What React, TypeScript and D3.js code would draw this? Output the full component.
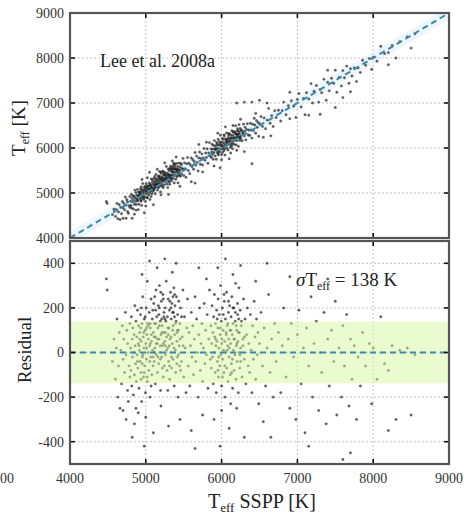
import React from "react";
import * as d3 from "d3";

// Stars: [Teff SSPP, residual (Lee 2008a - SSPP)]
const coolStars: [number, number][] = [
  [4480,330],[4490,280],[4560,-40],[4580,60],[4600,-120],[4610,20],[4620,150],[4630,-200],[4640,-60],[4650,90],
  [4660,-250],[4670,10],[4680,-140],[4690,120],[4700,-30],[4700,-260],[4710,60],[4720,-90],[4730,180],[4740,-10],
  [4740,-300],[4750,100],[4760,-170],[4760,40],[4770,-220],[4780,-60],[4790,130],[4790,-110],
];
const mainStars: [number, number][] = [
  [4800,20],[4805,-80],[4810,160],[4815,-150],[4820,60],[4825,-20],[4830,110],[4835,-190],[4840,0],[4845,80],
  [4850,-100],[4855,210],[4860,30],[4865,-50],[4870,140],[4875,-130],[4880,70],[4885,-10],[4890,190],[4895,-70],
  [4900,40],[4905,120],[4910,-160],[4915,10],[4920,90],[4925,-40],[4930,170],[4935,-90],[4940,50],[4945,-220],
  [4950,130],[4955,-20],[4960,250],[4965,70],[4970,-110],[4975,20],[4980,150],[4985,-60],[4990,100],[4995,-180],
  [5000,40],[5005,200],[5010,-30],[5015,80],[5020,-130],[5025,130],[5030,0],[5035,60],[5040,-80],[5045,180],
  [5050,30],[5055,-200],[5060,110],[5065,-20],[5070,240],[5075,50],[5080,-100],[5085,150],[5090,10],[5095,-60],
  [5100,90],[5105,220],[5110,-40],[5115,130],[5120,20],[5125,-140],[5130,70],[5135,280],[5140,-10],[5145,160],
  [5150,40],[5155,-90],[5160,110],[5165,210],[5170,-50],[5175,60],[5180,300],[5185,0],[5190,140],[5195,-170],
  [5200,80],[5205,230],[5210,-20],[5215,120],[5220,30],[5225,260],[5230,-110],[5235,90],[5240,180],[5245,-60],
  [5250,50],[5255,200],[5260,-10],[5265,140],[5270,320],[5275,70],[5280,-80],[5285,160],[5290,20],[5295,240],
  [5300,-40],[5305,110],[5310,190],[5315,-120],[5320,60],[5325,270],[5330,0],[5335,150],[5340,-70],[5345,220],
  [5350,40],[5355,100],[5360,-30],[5365,180],[5370,290],[5375,-150],[5380,80],[5385,210],[5390,10],[5395,-90],
  [5400,140],[5405,250],[5410,50],[5415,-20],[5420,170],[5425,-200],[5430,100],[5435,230],[5440,30],[5445,-60],
  [5450,130],[5460,200],[5470,-40],[5480,70],[5490,280],[5500,-110],[5510,160],[5520,20],[5530,-180],[5540,110],
  [5550,240],
  [4850,-320],[4900,-270],[5000,-290],[5100,-360],[5200,-240],[4950,350],[5050,410],[5150,380],[5250,420],[5350,360],
  [5450,-300],[4870,-250],[5300,-330],[5020,320],[5400,400],[4980,-420],[4820,-380],
  [4920,60],[4960,-10],[5010,110],[5060,40],[5110,70],[5160,-20],[5210,150],[5260,90],[5310,30],[5360,120],
  [5410,-50],[5130,190],[5230,240],[5330,200],[5070,-150],[4890,-40],[4940,200],[5190,30],[5290,-170],[5380,260],
  [4912,30],[4932,110],[4952,-50],[4972,90],[4992,160],[5012,20],[5032,120],[5052,-40],[5072,80],[5092,190],
  [5112,0],[5132,130],[5152,60],[5172,170],[5192,-30],[5212,90],[5232,40],[5252,150],[5272,10],[5292,110],
  [5312,-60],[5332,70],[5352,180],[5372,20],[5392,130],[5412,90],[5432,-10],[5452,60],[5472,160],[5492,30],
  [4938,-120],[4978,-90],[5018,-110],[5058,130],[5098,-20],[5138,40],[5178,120],[5218,-70],[5258,30],[5298,80],
  [5338,-20],[5378,160],[5418,100],[5458,-80],[5118,250],[5178,200],[5238,160],[5198,270],[5318,230],[5358,250],
];
const midStars: [number, number][] = [
  [5560,-60],[5570,90],[5580,-150],[5590,30],[5600,180],[5610,-20],[5620,120],[5630,-100],[5640,60],[5650,250],
  [5660,-40],[5670,150],[5680,0],[5690,-200],[5700,80],[5710,200],[5720,-80],[5730,40],[5740,130],[5750,-130],
  [5760,20],[5770,220],[5780,-50],[5790,100],[5800,-10],[5810,170],[5820,-160],[5830,60],[5840,280],[5850,-30],
  [5600,-350],[5700,380],[5750,-280],[5650,-430],[5800,330],
];
const warmStars: [number, number][] = [
  [5860,120],[5865,-70],[5870,40],[5875,210],[5880,-20],[5885,90],[5890,-140],[5895,160],[5900,0],[5905,260],
  [5910,70],[5915,-90],[5920,130],[5925,30],[5930,-180],[5935,190],[5940,50],[5945,-40],[5950,110],[5955,240],
  [5960,-110],[5965,20],[5970,170],[5975,-60],[5980,80],[5985,300],[5990,-10],[5995,140],[6000,-150],[6005,60],
  [6010,200],[6015,-30],[6020,100],[6025,10],[6030,-90],[6035,230],[6040,50],[6045,-200],[6050,150],[6055,0],
  [6060,90],[6065,270],[6070,-70],[6075,120],[6080,30],[6085,-130],[6090,180],[6095,60],[6100,-20],[6105,210],
  [6110,100],[6115,-100],[6120,40],[6125,160],[6130,-50],[6135,250],[6140,80],[6145,-160],[6150,130],[6155,10],
  [6160,200],[6165,-80],[6170,60],[6175,-10],[6180,140],[6185,310],[6190,-120],[6195,30],[6200,100],[6205,-40],
  [6210,220],[6215,50],[6220,-180],[6225,150],[6230,0],[6235,90],[6240,-70],[6245,190],[6250,20],[6260,120],
  [6270,-110],[6280,60],[6290,240],[6300,-30],[6310,150],[6320,-140],[6330,80],[6340,200],[6350,-60],
  [5900,-300],[5950,380],[6000,-260],[6050,420],[6100,-340],[6150,350],[6200,-250],[6250,390],[6300,-380],
  [5980,-420],[6120,-230],[6230,290],
  [6200,800],[6300,720],[6400,620],[6500,560],[6400,-750],
  [5922,60],[5942,150],[5962,-20],[5982,110],[6002,40],[6022,170],[6042,-60],[6062,80],[6082,130],[6102,20],
  [6122,100],[6142,-30],[6162,60],[6182,180],[6202,40],[6222,90],[6242,-10],[6262,140],[6282,30],[6302,70],
  [5952,-80],[6012,-110],[6072,10],[6132,-90],[6192,120],[6252,-40],[6092,230],[6152,200],[6032,260],[6212,170],
];
const hotStars: [number, number][] = [
  [6360,40],[6370,-90],[6380,170],[6390,10],[6400,-180],[6410,120],[6420,-30],[6430,230],[6440,70],[6450,-120],
  [6460,150],[6470,-10],[6480,90],[6490,-230],[6500,40],[6520,180],[6540,-60],[6560,110],[6580,-150],[6600,20],
  [6620,260],[6640,-90],[6660,60],[6680,-200],[6700,130],[6450,320],[6550,-310],[6600,400],[6650,-380],
  [6720,-40],[6750,90],[6780,-180],[6800,30],[6820,200],[6850,-110],[6880,60],[6900,-250],[6920,130],[6950,-20],
  [6980,-300],[7000,80],[7020,190],[7050,-140],[7080,20],[7100,-360],[7120,110],[7150,-60],[7180,250],[7200,-200],
  [7220,40],[7250,140],[7280,-260],[7300,0],[7320,-90],[7350,180],[7380,-320],[7400,60],[7420,-150],[7450,100],
  [7480,-40],[7500,230],[7520,-280],[7550,20],[7580,-200],[7600,120],[7620,-60],[7650,170],[7680,-240],[7700,60],
  [7720,-120],[7750,30],[7780,-300],[7800,-20],[7830,-150],[7860,90],[7900,-60],[7950,40],[7980,-230],[8000,20],
  [8050,-120],[8100,160],[8150,-50],[8200,-80],[8250,30],[8300,-300],[8350,10],[8450,20],[8500,-280],[8550,-10],
  [6900,340],[7150,-420],[7400,330],[7700,-450],[8200,-350],[7300,-550],[7500,-600],[7600,-480],
];
const stars = [...coolStars, ...mainStars, ...midStars, ...warmStars, ...hotStars];

const xTicks = [4000, 5000, 6000, 7000, 8000, 9000];
const topYTicks = [4000, 5000, 6000, 7000, 8000, 9000];
const botYTicks = [-400, -200, 0, 200, 400];
const sigmaTeff = 138;

const W = 467, H = 519;
const L = 70, R = 449;
const T1 = 13, B1 = 238, T2 = 241, B2 = 464;
const FONT = "'Liberation Serif', 'Times New Roman', serif";

export default function App() {
  const x = d3.scaleLinear().domain([4000, 9000]).range([L, R]);
  const yTop = d3.scaleLinear().domain([4000, 9000]).range([B1, T1]);
  const yBot = d3.scaleLinear().domain([-500, 500]).range([B2, T2]);

  const line = d3.line<[number, number]>().x(d => x(d[0])).y(d => yTop(d[1]));
  const diag: [number, number][] = [[4000, 4000], [9000, 9000]];
  const bandTop = d3.area<number>().x(d => x(d)).y0(d => yTop(d - sigmaTeff)).y1(d => yTop(d + sigmaTeff));

  const grid = (top: number, bottom: number, yScale: d3.ScaleLinear<number, number>, yTicks: number[]) => (
    <g>
      {xTicks.slice(1, -1).map(t => (
        <line key={"gx" + t} x1={x(t)} x2={x(t)} y1={top} y2={bottom} stroke="#c4c4c4" strokeWidth={1} strokeDasharray="2,2" />
      ))}
      {yTicks.map(t => (
        <line key={"gy" + t} x1={L} x2={R} y1={yScale(t)} y2={yScale(t)} stroke="#c4c4c4" strokeWidth={1} strokeDasharray="2,2" />
      ))}
    </g>
  );
  const border = (top: number, bottom: number, yScale: d3.ScaleLinear<number, number>, yTicks: number[]) => (
    <g>
      {xTicks.map(t => (
        <g key={"tx" + t}>
          <line x1={x(t)} x2={x(t)} y1={bottom} y2={bottom - 5} stroke="#111" strokeWidth={1.6} />
          <line x1={x(t)} x2={x(t)} y1={top} y2={top + 5} stroke="#111" strokeWidth={1.6} />
        </g>
      ))}
      {yTicks.map(t => (
        <g key={"ty" + t}>
          <line x1={L} x2={L + 5} y1={yScale(t)} y2={yScale(t)} stroke="#111" strokeWidth={1.6} />
          <line x1={R} x2={R - 5} y1={yScale(t)} y2={yScale(t)} stroke="#111" strokeWidth={1.6} />
        </g>
      ))}
      <rect x={L} y={top} width={R - L} height={bottom - top} fill="none" stroke="#555" strokeWidth={2.2} />
      {yTicks.map(t => (
        <text key={"ly" + t} x={L - 6} y={yScale(t)} dy="0.35em" textAnchor="end" fontSize={14} fill="#333" fontFamily={FONT}>{t}</text>
      ))}
    </g>
  );

  return (
    <svg width={W} height={H} style={{ position: "absolute", left: 0, top: 0, background: "#fff" }}>
      <defs>
        <clipPath id="cTop"><rect x={L} y={T1} width={R - L} height={B1 - T1} /></clipPath>
        <clipPath id="cBot"><rect x={L} y={T2} width={R - L} height={B2 - T2} /></clipPath>
      </defs>
      <rect x={0} y={0} width={W} height={H} fill="#fff" />

      {/* Top panel */}
      {grid(T1, B1, yTop, topYTicks)}
      <g clipPath="url(#cTop)">
        <path d={bandTop(d3.range(4000, 9001, 500)) || ""} fill="#dcedf6" opacity={0.5} />
        {stars.map((s, i) => (
          <circle key={"p" + i} cx={x(s[0])} cy={yTop(s[0] + s[1])} r={1.2} fill="#1a1a1a" stroke="#1a1a1a" strokeWidth={0.4} opacity={0.7} />
        ))}
        <path d={line(diag) || ""} stroke="#3a8ab0" strokeWidth={2} strokeDasharray="6,4" fill="none" />
      </g>
      {border(T1, B1, yTop, topYTicks)}
      <text x={100} y={67} fontSize={18} fill="#222" fontFamily={FONT}>Lee et al. 2008a</text>

      {/* Bottom panel */}
      {grid(T2, B2, yBot, botYTicks)}
      <g clipPath="url(#cBot)">
        {stars.map((s, i) => (
          <circle key={"r" + i} cx={x(s[0])} cy={yBot(s[1])} r={1.2} fill="#1a1a1a" stroke="#1a1a1a" strokeWidth={0.4} opacity={0.7} />
        ))}
        <rect x={L} y={yBot(sigmaTeff)} width={R - L} height={yBot(-sigmaTeff) - yBot(sigmaTeff)} fill="#d6f7a0" opacity={0.5} />
        <line x1={L} x2={R} y1={yBot(0)} y2={yBot(0)} stroke="#3a8ab0" strokeWidth={2} strokeDasharray="6,4" />
      </g>
      {border(T2, B2, yBot, botYTicks)}
      <text x={296} y={286} fontSize={19} fill="#222" fontFamily={FONT}>
        <tspan fontStyle="italic">σ</tspan>T<tspan fontSize={12} dy={4}>eff</tspan><tspan dy={-4}> = 138 K</tspan>
      </text>

      {/* X tick labels */}
      {xTicks.map(t => (
        <text key={"lx" + t} x={x(t)} y={483} textAnchor="middle" fontSize={14} fill="#333" fontFamily={FONT}>{t}</text>
      ))}
      <text x={0} y={483} textAnchor="start" fontSize={14} fill="#333" fontFamily={FONT}>00</text>

      {/* Axis titles */}
      <text x={262} y={508} textAnchor="middle" fontSize={20} fill="#222" fontFamily={FONT}>
        T<tspan fontSize={13} dy={4}>eff</tspan><tspan dy={-4}> SSPP [K]</tspan>
      </text>
      <text transform="translate(25,128) rotate(-90)" textAnchor="middle" fontSize={19} fill="#222" fontFamily={FONT}>
        T<tspan fontSize={12} dy={4}>eff</tspan><tspan dy={-4}> [K]</tspan>
      </text>
      <text transform="translate(31,350) rotate(-90)" textAnchor="middle" fontSize={19} fill="#222" fontFamily={FONT}>Residual</text>
    </svg>
  );
}
